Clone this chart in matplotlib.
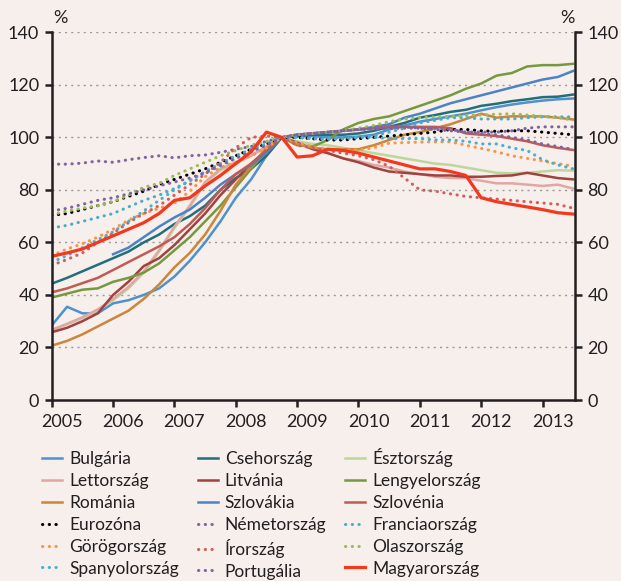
import numpy as np
import matplotlib
matplotlib.use("Agg")
import matplotlib.pyplot as plt
from matplotlib.transforms import ScaledTranslation

# quarterly points, 2005 Q1 .. 2013 Q3 (index, 2008 Q4 = 100)
quarters = [2005 + q / 4 for q in range(35)]
nan = np.nan

bulgaria = [28.4, 35.5, 33.0, 33.0, 36.8, 38.0, 40.0, 42.5, 47.0, 53.0, 60.0, 68.0, 77.0, 84.0, 93.0, 100.0,
            100.5, 100.5, 100.0, 100.0, 100.3, 101.0, 103.0, 104.5, 106.0, 107.0, 108.0, 109.0, 110.3, 111.5,
            112.5, 113.3, 114.0, 114.5, 114.8]
csehorszag = [44.3, 46.5, 49.0, 51.5, 54.0, 56.5, 60.0, 63.0, 67.0, 70.0, 74.0, 80.0, 84.5, 88.0, 93.0, 100.0,
              100.5, 101.0, 101.0, 101.0, 101.5, 102.5, 104.0, 105.5, 107.5, 108.5, 109.7, 110.5, 112.0, 112.8,
              113.8, 114.5, 115.3, 115.5, 116.3]
esztorszag = [26.5, 28.8, 31.2, 34.0, 38.0, 42.5, 48.5, 56.5, 65.5, 73.5, 82.5, 87.5, 90.0, 93.0, 96.5, 100.0,
              98.5, 97.5, 97.0, 96.0, 95.0, 94.0, 93.0, 92.0, 91.0, 90.0, 89.5, 88.5, 87.5, 86.5,
              86.3, 86.5, 87.0, 87.5, 87.3]
lettorszag = [26.7, 29.0, 31.5, 34.5, 38.5, 43.0, 49.0, 57.0, 66.0, 74.0, 83.0, 88.0, 90.5, 93.0, 96.5, 100.0,
              98.0, 96.0, 94.0, 92.0, 91.0, 89.5, 88.5, 87.0, 86.0, 85.0, 84.5, 84.5, 83.5, 82.5,
              82.5, 82.0, 81.5, 82.0, 80.5]
litvania = [25.8, 27.5, 30.0, 33.0, 40.0, 45.0, 51.0, 54.0, 59.0, 65.0, 71.0, 78.0, 84.0, 90.0, 95.0, 100.0,
            98.0, 95.5, 94.0, 92.0, 90.5, 88.5, 87.0, 86.5, 86.0, 85.5, 85.5, 85.0, 85.0, 85.3,
            85.5, 86.5, 85.5, 84.5, 84.0]
lengyelorszag = [39.0, 40.5, 42.0, 42.5, 45.0, 46.5, 48.5, 52.0, 57.0, 62.0, 68.0, 74.0, 81.0, 88.0, 95.0, 100.0,
                 97.0, 96.5, 99.0, 103.0, 105.5, 107.0, 108.0, 110.0, 112.0, 114.0, 116.0, 118.5, 120.5, 123.5,
                 124.5, 127.0, 127.5, 127.5, 128.0]
romania = [20.7, 22.5, 25.0, 28.0, 31.0, 34.0, 38.5, 44.0, 50.5, 56.0, 63.0, 72.0, 82.0, 89.0, 96.0, 100.0,
           97.5, 96.0, 95.5, 95.5, 95.5, 97.0, 99.0, 101.0, 102.0, 103.5, 105.0, 107.0, 109.0, 107.5,
           108.0, 108.0, 108.0, 107.5, 106.8]
szlovakia = [nan, nan, nan, nan, 55.5, 58.0, 62.0, 66.0, 69.5, 72.5, 77.0, 82.0, 86.0, 89.5, 94.0, 100.0,
             101.0, 101.5, 102.0, 102.5, 103.0, 104.0, 105.0, 107.5, 109.0, 111.0, 113.0, 114.5, 116.0, 117.5,
             119.0, 120.5, 122.0, 123.0, 125.3]
szlovenia = [41.0, 42.5, 44.5, 46.5, 49.5, 52.5, 55.5, 58.5, 62.0, 67.0, 73.0, 80.0, 86.0, 90.0, 95.0, 100.0,
             101.0, 101.5, 102.0, 102.5, 103.0, 103.5, 104.0, 104.0, 104.0, 104.0, 103.5, 101.5, 101.0, 100.5,
             99.5, 98.5, 97.0, 96.0, 95.2]
eurozona = [70.3, 71.0, 72.5, 74.0, 75.5, 77.5, 79.5, 82.0, 84.0, 86.0, 88.0, 90.5, 93.0, 95.5, 97.5, 100.0,
            100.0, 99.5, 99.0, 99.0, 99.5, 100.0, 100.5, 101.0, 101.5, 102.0, 103.0, 103.0, 102.5, 102.3,
            102.5, 102.5, 102.0, 101.5, 101.0]
nemetorszag = [89.8, 89.8, 90.2, 91.0, 90.5, 91.5, 92.3, 93.0, 92.2, 93.0, 93.3, 94.3, 95.5, 96.5, 98.5, 100.0,
               101.0, 101.5, 102.0, 102.5, 103.0, 103.0, 103.5, 103.5, 103.5, 103.0, 102.5, 102.0, 102.0, 102.0,
               102.5, 103.5, 104.0, 104.0, 104.0]
franciaorszag = [65.5, 66.5, 68.0, 69.5, 71.0, 73.5, 76.0, 78.0, 80.5, 83.5, 87.0, 90.0, 93.0, 95.5, 97.5, 100.0,
                 100.0, 99.5, 99.5, 99.5, 100.0, 100.5, 102.0, 103.5, 105.5, 106.5, 107.5, 107.5, 107.0, 107.0,
                 107.0, 107.5, 107.8, 107.8, 107.8]
gorogorszag = [55.0, 57.5, 59.5, 62.0, 65.0, 68.5, 71.0, 73.0, 75.0, 79.5, 85.0, 88.5, 90.5, 93.0, 96.0, 100.0,
               98.0, 96.5, 95.5, 95.2, 95.2, 96.0, 97.8, 98.0, 98.2, 98.3, 98.3, 97.0, 95.8, 94.5,
               93.0, 92.0, 91.0, 90.0, 89.0]
irorszag = [51.3, 53.5, 56.0, 60.0, 63.5, 67.5, 71.0, 74.0, 78.0, 82.0, 86.0, 90.5, 96.0, 100.0, 100.5, 100.0,
            97.0, 96.0, 95.0, 94.0, 93.0, 91.5, 89.0, 84.5, 80.0, 79.5, 78.5, 77.5, 77.0, 76.5,
            76.0, 75.5, 75.0, 74.5, 73.0]
olaszorszag = [70.5, 72.0, 73.0, 74.0, 75.5, 78.0, 81.0, 82.5, 85.5, 88.0, 90.5, 93.0, 95.0, 97.0, 98.5, 100.0,
               101.0, 101.5, 102.0, 102.5, 103.5, 104.5, 106.0, 107.0, 107.5, 107.8, 108.0, 108.3, 108.5, 108.8,
               109.0, 108.5, 108.0, 107.5, 106.6]
spanyolorszag = [52.5, 55.0, 58.0, 61.0, 64.0, 68.0, 72.0, 76.0, 80.0, 83.5, 86.5, 89.0, 92.0, 95.0, 97.5, 100.0,
                 100.0, 99.5, 99.3, 99.5, 100.0, 100.0, 99.5, 99.5, 99.5, 99.0, 99.0, 98.5, 97.5, 97.5,
                 96.0, 95.0, 91.5, 89.5, 88.0]
portugalia = [72.0, 73.0, 74.5, 76.0, 77.0, 78.5, 80.0, 81.5, 83.0, 84.5, 86.5, 89.5, 92.0, 94.5, 97.0, 100.0,
              101.0, 101.5, 102.0, 102.5, 103.0, 103.5, 104.0, 104.0, 103.5, 103.5, 103.0, 102.0, 101.5, 101.0,
              100.0, 99.0, 97.5, 96.5, 95.4]
magyarorszag = [54.7, 56.0, 57.5, 60.0, 62.5, 65.0, 67.5, 71.0, 76.0, 77.0, 81.5, 85.5, 90.0, 94.5, 102.0, 100.0,
                92.5, 93.0, 95.5, 95.0, 94.0, 92.5, 91.0, 89.5, 88.0, 88.0, 87.0, 85.5, 77.0, 75.5,
                74.5, 73.5, 72.5, 71.3, 70.8]

series = [
    ("Bulgária", bulgaria, "#4f91cd", "-"),
    ("Csehország", csehorszag, "#226f7a", "-"),
    ("Észtország", esztorszag, "#bcd69c", "-"),
    ("Lettország", lettorszag, "#e0a7a4", "-"),
    ("Litvánia", litvania, "#a0423f", "-"),
    ("Lengyelország", lengyelorszag, "#76993f", "-"),
    ("Románia", romania, "#cc853a", "-"),
    ("Szlovákia", szlovakia, "#4a84c4", "-"),
    ("Szlovénia", szlovenia, "#c05a55", "-"),
    ("Eurozóna", eurozona, "#000000", ":"),
    ("Németország", nemetorszag, "#8064a2", ":"),
    ("Franciaország", franciaorszag, "#4bacc6", ":"),
    ("Görögország", gorogorszag, "#f79646", ":"),
    ("Írország", irorszag, "#cf5f5a", ":"),
    ("Olaszország", olaszorszag, "#9bbb59", ":"),
    ("Spanyolország", spanyolorszag, "#46b0d0", ":"),
    ("Portugália", portugalia, "#8064a2", ":"),
    ("Magyarország", magyarorszag, "#f2391f", "-"),
]

bg = "#f6efeb"
dark = "#231f20"
plt.rcParams["font.family"] = ["Lato", "DejaVu Sans"]

fig = plt.figure(figsize=(6.21, 5.81), dpi=100, facecolor=bg)
ax = fig.add_axes([0.0833, 0.3115, 0.8427, 0.6329], facecolor=bg)

handles = []
for name, vals, col, ls in series:
    if ls == ":":
        h, = ax.plot(quarters, vals, color=col, lw=2.2, linestyle=(0, (0.1, 2.1)),
                     dash_capstyle="round", label=name)
    else:
        lw = 2.3 if name == "Magyarország" else 1.8
        h, = ax.plot(quarters, vals, color=col, lw=lw, label=name)
    handles.append(h)

ax.set_xlim(2005, 2013.53)
ax.set_ylim(0, 140)
ax.set_yticks(range(0, 141, 20))
ax.set_xticks(range(2005, 2014))
for y in range(20, 141, 20):
    ax.axhline(y, color="#9a9a9a", lw=1.0, linestyle=(0, (1.5, 3)), zorder=0)

ax.spines["top"].set_visible(False)
for s in ["left", "right", "bottom"]:
    ax.spines[s].set_color(dark)
    ax.spines[s].set_linewidth(1.8)
ax.tick_params(axis="y", which="both", left=True, right=True, labelleft=True, labelright=True,
               direction="out", length=5, width=1.8, color=dark, labelsize=13, labelcolor=dark, pad=4)
ax.tick_params(axis="x", direction="out", length=5, width=1.8, color=dark, labelsize=13,
               labelcolor=dark, pad=5)
shift = ScaledTranslation(10 / 100, 0, fig.dpi_scale_trans)
for lab in ax.get_xticklabels():
    lab.set_transform(lab.get_transform() + shift)

fig.text(60 / 621, 1 - 18 / 581, "%", ha="center", va="center", fontsize=13, color=dark)
fig.text(567 / 621, 1 - 18 / 581, "%", ha="center", va="center", fontsize=13, color=dark)

# legend is filled column by column, so reorder to read row by row
order = [i for c in range(3) for i in range(c, 18, 3)]
hs = [handles[i] for i in order]
leg = fig.legend(handles=hs, labels=[h.get_label() for h in hs], loc="upper left", ncol=3,
                 bbox_to_anchor=(42 / 621, 1 - 448 / 581), frameon=False,
                 fontsize=12.5, handlelength=1.15, handletextpad=0.4, labelspacing=0.34,
                 columnspacing=1.1, borderpad=0, borderaxespad=0)
for t in leg.get_texts():
    t.set_color(dark)

fig.savefig("out.png", dpi=100, facecolor=bg)
